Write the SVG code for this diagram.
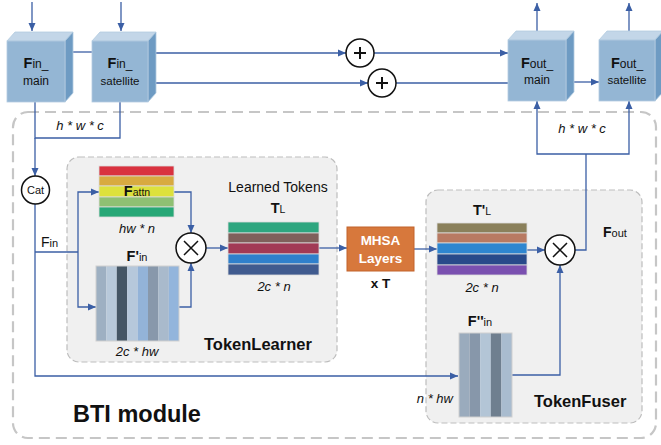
<svg xmlns="http://www.w3.org/2000/svg" width="661" height="445" viewBox="0 0 661 445">
<style>
text{font-family:"Liberation Sans",Arial,sans-serif;fill:#111}
.c{stroke:#3b5fa5;stroke-width:1.3;fill:none}
.a{marker-end:url(#ar)}
.front{fill:#94b6d4;stroke:#b3cbe0;stroke-width:0.8}
.top{fill:#c3d6e8;stroke:#b3cbe0;stroke-width:0.8}
.side{fill:#6e9bc3;stroke:#b3cbe0;stroke-width:0.8}
.op{fill:#fff;stroke:#111;stroke-width:1.5}
.st{stroke:#dcdcdc;stroke-width:0.8}
.it{font-style:italic;font-size:13px}
.bx{fill:#f0f0f0;stroke:#bdbdbd;stroke-width:1.2;stroke-dasharray:6 3}
</style>
<defs>
<marker id="ar" viewBox="0 0 8 8" markerUnits="userSpaceOnUse" markerWidth="8" markerHeight="8" refX="8" refY="4" orient="auto">
<path d="M0,0.5 L8,4 L0,7.5 z" fill="#3b5fa5"/>
</marker>
</defs>
<rect x="13" y="112" width="643" height="326" rx="15" fill="none" stroke="#c6c6c6" stroke-width="2.2" stroke-dasharray="11 6"/>
<text x="73" y="422" font-size="23.5" font-weight="bold">BTI module</text>
<g id="tokenlearner-box">
<rect class="bx" x="67" y="157" width="270" height="205" rx="12"/>
<text x="204" y="350" font-size="16.5" font-weight="bold">TokenLearner</text>
</g>
<g id="tokenfuser-box">
<rect class="bx" x="426" y="190" width="216" height="233" rx="12"/>
<text x="534" y="407" font-size="16.5" font-weight="bold">TokenFuser</text>
</g>
<g id="connectors">
<path class="c a" d="M32,2 V31"/>
<path class="c a" d="M121,2 V31"/>
<path class="c" d="M73,52 H92"/>
<path class="c a" d="M156,53 H346"/>
<path class="c a" d="M374,53 H508"/>
<path class="c a" d="M156,83 H368"/>
<path class="c" d="M396,83 H508"/>
<path class="c a" d="M573,82 H599"/>
<path class="c a" d="M537,32 V3"/>
<path class="c a" d="M629,32 V3"/>
<path class="c" d="M35,102 V138 H120 V102"/>
<path class="c a" d="M35,138 V176"/>
<path class="c a" d="M35,204 V376 H458"/>
<path class="c" d="M35,252 H78"/>
<path class="c a" d="M78,252 V192 H99"/>
<path class="c a" d="M78,252 V307 H96"/>
<path class="c a" d="M174,192 H191 V233"/>
<path class="c a" d="M179,307 H191 V263"/>
<path class="c a" d="M206,248 H228"/>
<path class="c a" d="M319,248 H347"/>
<path class="c a" d="M414,249 H437"/>
<path class="c a" d="M527,250 H545"/>
<path class="c" d="M575,250 H586 V154"/>
<path class="c a" d="M586,154 H537 V101"/>
<path class="c a" d="M586,154 H629 V101"/>
<path class="c a" d="M512,375 H560 V265"/>
</g>
<g id="fin-main">
<polygon class="top" points="7,41 15,32 73,32 65,41"/>
<polygon class="side" points="65,41 73,32 73,93 65,102"/>
<rect class="front" x="7" y="41" width="58" height="61"/>
<text x="36" y="68" text-anchor="middle"><tspan font-size="14.5" font-weight="bold">F</tspan><tspan font-size="12">in_</tspan></text>
<text x="36" y="85" text-anchor="middle" font-size="12">main</text>
</g>
<g id="fin-satellite">
<polygon class="top" points="92,41 100,32 156,32 148,41"/>
<polygon class="side" points="148,41 156,32 156,93 148,102"/>
<rect class="front" x="92" y="41" width="56" height="61"/>
<text x="120" y="68" text-anchor="middle"><tspan font-size="14.5" font-weight="bold">F</tspan><tspan font-size="12">in_</tspan></text>
<text x="120" y="85" text-anchor="middle" font-size="11.5">satellite</text>
</g>
<g id="fout-main">
<polygon class="top" points="508,40 516,31 574,31 566,40"/>
<polygon class="side" points="566,40 574,31 574,92 566,101"/>
<rect class="front" x="508" y="40" width="58" height="61"/>
<text x="537" y="68" text-anchor="middle"><tspan font-size="14.5" font-weight="bold">F</tspan><tspan font-size="12">out_</tspan></text>
<text x="537" y="84" text-anchor="middle" font-size="12">main</text>
</g>
<g id="fout-satellite">
<polygon class="top" points="599,40 607,31 663,31 655,40"/>
<polygon class="side" points="655,40 663,31 663,92 655,101"/>
<rect class="front" x="599" y="40" width="56" height="61"/>
<text x="627" y="68" text-anchor="middle"><tspan font-size="14.5" font-weight="bold">F</tspan><tspan font-size="12">out_</tspan></text>
<text x="627" y="84" text-anchor="middle" font-size="11.5">satellite</text>
</g>
<g id="add-1">
<circle class="op" cx="360" cy="53" r="14"/>
<path d="M354,53 H366 M360,47 V59" stroke="#111" stroke-width="2"/>
</g>
<g id="add-2">
<circle class="op" cx="382" cy="83" r="14"/>
<path d="M376,83 H388 M382,77 V89" stroke="#111" stroke-width="2"/>
</g>
<text class="it" x="80" y="130" text-anchor="middle">h * w * c</text>
<text class="it" x="582" y="133" text-anchor="middle">h * w * c</text>
<g id="cat">
<circle class="op" cx="35.5" cy="190" r="14"/>
<text x="35.5" y="194" text-anchor="middle" font-size="11">Cat</text>
</g>
<text x="41" y="247"><tspan font-size="14">F</tspan><tspan font-size="11">in</tspan></text>
<g id="f-attn">
<rect class="st" x="99" y="166" width="75" height="10" fill="#d9323f"/>
<rect class="st" x="99" y="176" width="75" height="10" fill="#d8aa40"/>
<rect class="st" x="99" y="186" width="75" height="11" fill="#dde13c"/>
<rect class="st" x="99" y="197" width="75" height="10" fill="#8fc073"/>
<rect class="st" x="99" y="207" width="75" height="10" fill="#28a877"/>
<text x="137" y="196" text-anchor="middle"><tspan font-size="14.5" font-weight="bold">F</tspan><tspan font-size="10.5">attn</tspan></text>
<text class="it" x="137" y="233" text-anchor="middle">hw * n</text>
</g>
<g id="f-prime-in">
<text x="137" y="261" text-anchor="middle"><tspan font-size="14.5" font-weight="bold">F'</tspan><tspan font-size="11">in</tspan></text>
<rect x="96" y="266" width="10.4" height="75" fill="#9eb0c2"/>
<rect x="106.4" y="266" width="10.4" height="75" fill="#b8c9da"/>
<rect x="116.8" y="266" width="10.4" height="75" fill="#455665"/>
<rect x="127.2" y="266" width="10.4" height="75" fill="#b6c8db"/>
<rect x="137.6" y="266" width="10.4" height="75" fill="#93b3d8"/>
<rect x="148" y="266" width="10.4" height="75" fill="#8898ab"/>
<rect x="158.4" y="266" width="10.4" height="75" fill="#a9bacc"/>
<rect x="168.8" y="266" width="10.2" height="75" fill="#93b5dc"/>
<rect x="96" y="266" width="83" height="75" fill="none" stroke="#cfcfcf" stroke-width="1"/>
<text class="it" x="137" y="356" text-anchor="middle">2c * hw</text>
</g>
<g id="mul-1">
<circle class="op" cx="191" cy="248" r="15"/>
<path d="M184,241 L198,255 M198,241 L184,255" stroke="#111" stroke-width="1.5"/>
</g>
<g id="learned-tokens">
<text x="278" y="192" text-anchor="middle" font-size="14">Learned Tokens</text>
<text x="278" y="213" text-anchor="middle"><tspan font-size="14.5" font-weight="bold">T</tspan><tspan font-size="10.5">L</tspan></text>
<rect class="st" x="228" y="222" width="91" height="11" fill="#2ea67f"/>
<rect class="st" x="228" y="233" width="91" height="10" fill="#7f605b"/>
<rect class="st" x="228" y="243" width="91" height="11" fill="#a23a55"/>
<rect class="st" x="228" y="254" width="91" height="10" fill="#2f80cc"/>
<rect class="st" x="228" y="264" width="91" height="11" fill="#405b8f"/>
<text class="it" x="274" y="291" text-anchor="middle">2c * n</text>
</g>
<g id="mhsa">
<rect x="347" y="227" width="67" height="44" fill="#d7783c" stroke="#c2622a" stroke-width="1"/>
<text x="380.5" y="245" text-anchor="middle" font-size="13.5" font-weight="bold" style="fill:#fff">MHSA</text>
<text x="380.5" y="263" text-anchor="middle" font-size="13.5" font-weight="bold" style="fill:#fff">Layers</text>
<text x="380.5" y="288" text-anchor="middle" font-size="13.5" font-weight="bold">x T</text>
</g>
<g id="t-prime-l">
<text x="482" y="215" text-anchor="middle"><tspan font-size="14.5" font-weight="bold">T'</tspan><tspan font-size="10.5">L</tspan></text>
<rect class="st" x="437" y="223" width="90" height="10" fill="#8a805b"/>
<rect class="st" x="437" y="233" width="90" height="10" fill="#b87a62"/>
<rect class="st" x="437" y="243" width="90" height="11" fill="#2e86d0"/>
<rect class="st" x="437" y="254" width="90" height="11" fill="#284a8a"/>
<rect class="st" x="437" y="265" width="90" height="10" fill="#7a50b0"/>
<text class="it" x="482" y="292" text-anchor="middle">2c * n</text>
</g>
<g id="mul-2">
<circle class="op" cx="560" cy="250" r="15"/>
<path d="M553,243 L567,257 M567,243 L553,257" stroke="#111" stroke-width="1.5"/>
</g>
<text x="603" y="237"><tspan font-size="14" font-weight="bold">F</tspan><tspan font-size="11">out</tspan></text>
<g id="f-dprime-in">
<text x="480" y="326" text-anchor="middle"><tspan font-size="14.5" font-weight="bold">F''</tspan><tspan font-size="11">in</tspan></text>
<rect x="459" y="333" width="10.6" height="84" fill="#9aabbd"/>
<rect x="469.6" y="333" width="10.6" height="84" fill="#8797aa"/>
<rect x="480.2" y="333" width="10.6" height="84" fill="#b3c5d6"/>
<rect x="490.8" y="333" width="10.6" height="84" fill="#6f7f8f"/>
<rect x="501.4" y="333" width="10.6" height="84" fill="#a9bccf"/>
<rect x="459" y="333" width="53" height="84" fill="none" stroke="#cfcfcf" stroke-width="1"/>
<text class="it" x="453" y="403" text-anchor="end">n * hw</text>
</g>
</svg>
